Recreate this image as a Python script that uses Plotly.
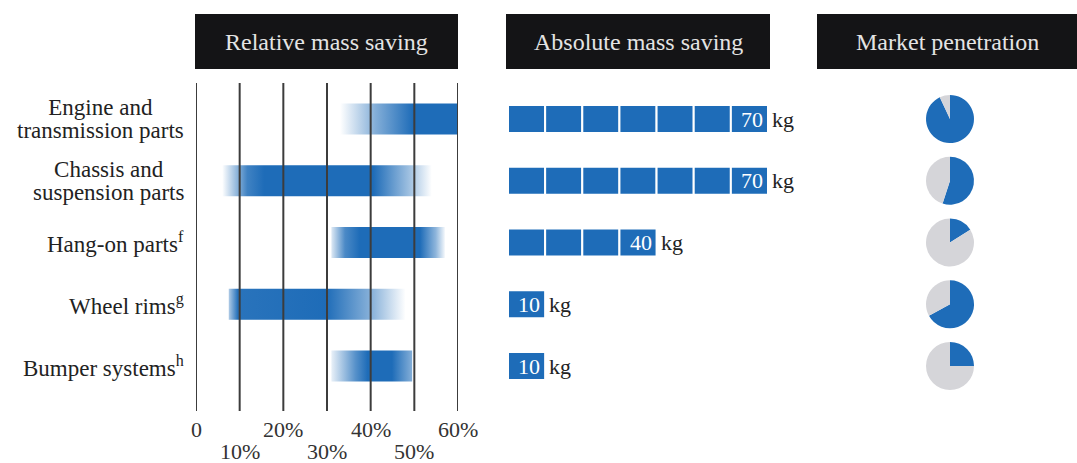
import plotly.graph_objects as go

# ---------------- data ----------------
categories = ["Engine and<br>transmission parts", "Chassis and<br>suspension parts",
              "Hang-on parts<sup>f</sup>", "Wheel rims<sup>g</sup>", "Bumper systems<sup>h</sup>"]
rel_low = [33, 6, 31, 7.5, 31]        # relative mass saving range start (%)
rel_high = [60, 54, 57, 48, 49.5]     # relative mass saving range end (%)
abs_saving = [70, 70, 40, 10, 10]     # absolute mass saving (kg)
market_share = [93, 55, 16, 67, 25]   # market penetration (%)
rel_ticks = [0, 10, 20, 30, 40, 50, 60]
rel_tick_labels = ["0", "10%", "20%", "30%", "40%", "50%", "60%"]
headers = ["Relative mass saving", "Absolute mass saving", "Market penetration"]

# ---------------- style ----------------
W, H = 1077, 463
BLUE = "rgb(30,108,184)"
GRAY = "#d5d5d9"
FONT = "Liberation Serif"
row0, row_step = 119.0, 61.75          # pixel centre of first row, spacing
# gradient profiles per bar: (position fraction, alpha)
fade = [
    [(0, 0.0), (0.3, 0.55), (0.62, 1.0), (1, 1.0)],
    [(0, 0.0), (0.12, 0.85), (0.2, 1.0), (0.72, 1.0), (0.9, 0.4), (1, 0.0)],
    [(0, 0.15), (0.12, 0.8), (0.25, 1.0), (0.78, 1.0), (0.92, 0.5), (1, 0.05)],
    [(0, 0.35), (0.05, 0.95), (0.55, 1.0), (0.82, 0.5), (1, 0.0)],
    [(0, 0.1), (0.3, 0.75), (0.45, 1.0), (0.75, 1.0), (1, 0.55)],
]
bar_half = 0.25
LABEL_PX = 23


def px_x(p):
    return p / W


def px_y(p):
    return 1 - p / H


def sized(text, px):
    return "<br>".join(f'<span style="font-size:{px}px">{part}</span>' for part in text.split("<br>"))


fig = go.Figure()

n = len(categories)
rows = list(range(n))

# ---------------- left: relative mass saving (gradient bars) ----------------
for i in rows:
    lo, hi = rel_low[i], rel_high[i]
    cs = [[f, f"rgba(30,108,184,{a})"] for f, a in fade[i]]
    fig.add_trace(go.Scatter(
        x=[lo, hi, hi, lo, lo],
        y=[i - bar_half, i - bar_half, i + bar_half, i + bar_half, i - bar_half],
        mode="lines", line=dict(width=0), fill="toself",
        fillgradient=dict(type="horizontal", colorscale=cs),
        hoverinfo="skip", showlegend=False, xaxis="x", yaxis="y"))

# gridlines on top
gx, gy = [], []
for t in rel_ticks:
    gx += [t, t, None]
    gy += [(83 - row0) / row_step, (411 - row0) / row_step, None]
fig.add_trace(go.Scatter(x=gx, y=gy, mode="lines",
                         line=dict(color="#3c3c3c", width=2),
                         hoverinfo="skip", showlegend=False, xaxis="x", yaxis="y"))

annotations = []
for k, (t, lab) in enumerate(zip(rel_ticks, rel_tick_labels)):
    annotations.append(dict(x=t, xref="x", y=px_y(429 if k % 2 == 0 else 451), yref="paper",
                            text=lab, showarrow=False, xanchor="center", yanchor="middle",
                            font=dict(family=FONT, size=22, color="#333")))

# category labels (small base size keeps line spacing tight)
for i, c in enumerate(categories):
    annotations.append(dict(x=px_x(186), xref="paper", y=i, yref="y", text=sized(c, LABEL_PX),
                            showarrow=False, xanchor="right", yanchor="middle",
                            align="center",
                            font=dict(family=FONT, size=17.5, color="#222")))

# ---------------- middle: absolute mass saving (segmented bars) ----------------
for i in rows:
    v = abs_saving[i]
    bases = list(range(0, v, 10))
    fig.add_trace(go.Bar(
        x=[10] * len(bases), base=bases, y=[i] * len(bases), orientation="h",
        width=0.45, marker=dict(color=BLUE, line=dict(color="white", width=2)),
        hoverinfo="skip", showlegend=False, xaxis="x2", yaxis="y"))
    annotations.append(dict(x=v, xref="x2", y=i, yref="y", text=str(v), showarrow=False,
                            xanchor="right", xshift=-3, yanchor="middle",
                            font=dict(family=FONT, size=22, color="white")))
    annotations.append(dict(x=v, xref="x2", y=i, yref="y", text="kg", showarrow=False,
                            xanchor="left", xshift=2, yanchor="middle",
                            font=dict(family=FONT, size=22, color="#222")))

# ---------------- right: market penetration (pies) ----------------
pie_cx, pie_r = 950, 24
for i in rows:
    cy = row0 + row_step * i
    fig.add_trace(go.Pie(
        values=[market_share[i], 100 - market_share[i]],
        marker=dict(colors=[BLUE, GRAY], line=dict(width=0)),
        sort=False, direction="clockwise", rotation=0,
        textinfo="none", hoverinfo="skip", showlegend=False,
        domain=dict(x=[px_x(pie_cx - pie_r), px_x(pie_cx + pie_r)],
                    y=[px_y(cy + pie_r), px_y(cy - pie_r)])))

# ---------------- headers ----------------
boxes = [(195, 458), (506, 770), (817, 1077)]
shapes = []
for (x0, x1), h in zip(boxes, headers):
    shapes.append(dict(type="rect", xref="paper", yref="paper",
                       x0=px_x(x0), x1=px_x(x1), y0=px_y(69), y1=px_y(14),
                       fillcolor="#141416", line=dict(width=0), layer="below"))
    annotations.append(dict(x=px_x((x0 + x1) / 2), xref="paper", y=px_y(41.5), yref="paper",
                            text=h, showarrow=False, xanchor="center", yanchor="middle",
                            font=dict(family=FONT, size=24, color="#e4e4e4")))

ax_hidden = dict(visible=False, showgrid=False, zeroline=False, fixedrange=True)
fig.update_layout(
    width=W, height=H, margin=dict(l=0, r=0, t=0, b=0),
    paper_bgcolor="white", plot_bgcolor="rgba(0,0,0,0)",
    xaxis=dict(domain=[px_x(196), px_x(458)], range=[0, 60], anchor="y", **ax_hidden),
    xaxis2=dict(domain=[px_x(508), px_x(768)], range=[0, 70], anchor="y", **ax_hidden),
    yaxis=dict(domain=[0, 1], range=[(H - row0) / row_step, -row0 / row_step], **ax_hidden),
    barmode="overlay", shapes=shapes, annotations=annotations,
)

fig.write_html("out.html", config={"displayModeBar": False},
               post_script="document.body.style.margin='0';")
